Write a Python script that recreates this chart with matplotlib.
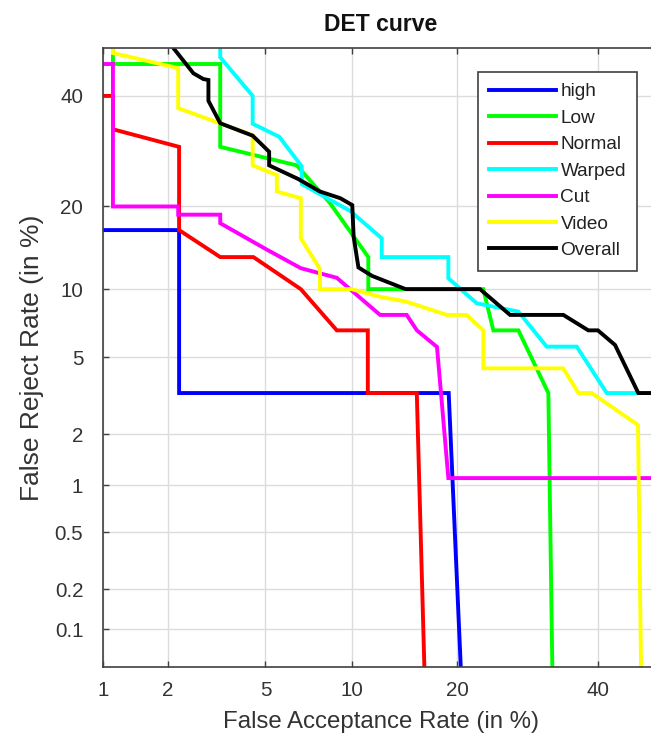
import math
import numpy as np
import matplotlib
matplotlib.use("Agg")
import matplotlib.pyplot as plt
from matplotlib.ticker import FixedLocator, FixedFormatter, NullLocator

plt.rcParams['font.family'] = ['Liberation Sans', 'DejaVu Sans']

# ---- DET curves (false acceptance rate / false reject rate, in %) ----
labels = ["high", "Low", "Normal", "Warped", "Cut", "Video", "Overall"]
colors = ["#0000ff", "#00ff00", "#ff0000", "#00ffff", "#ff00ff", "#ffff00", "#000000"]

far_high = [0.5, 2.24, 2.24, 19.0, 20.4]
frr_high = [16.67, 16.67, 3.33, 3.33, 0.05]

far_low = [1.12, 1.12, 3.33, 3.33, 6.5, 8.46, 11.23, 11.23, 23.18, 24.48, 27.89, 32.25, 32.85]
frr_low = [55, 46.67, 46.67, 30.0, 26.67, 20.5, 13.33, 10.0, 10.0, 6.67, 6.67, 3.33, 0.05]

far_normal = [0.5, 1.12, 1.12, 2.24, 2.24, 3.33, 4.5, 6.72, 8.91, 11.19, 11.19, 15.59, 16.36]
frr_normal = [40, 40, 33.33, 30, 16.67, 13.33, 13.33, 10, 6.67, 6.67, 3.33, 3.33, 0.05]

far_warped = [3.33, 3.33, 4.47, 4.47, 5.62, 6.77, 6.77, 9.84, 12.34, 12.34, 18.96, 18.96,
              22.35, 27.89, 32.0, 36.62, 41.44, 60]
frr_warped = [55, 48.1, 40, 34.4, 31.9, 26.5, 23.5, 19.35, 15.6, 13.33, 13.33, 11.06,
              8.74, 8.06, 5.62, 5.62, 3.33, 3.33]

far_cut = [0.5, 1.12, 1.12, 2.22, 2.22, 3.33, 3.33, 5.06, 6.72, 8.91, 12.2, 14.6, 15.6,
           17.7, 18.96, 60]
frr_cut = [46.67, 46.67, 20, 20, 18.8, 18.8, 17.6, 14.2, 12.1, 11.1, 7.8, 7.8, 6.67,
           5.6, 1.11, 1.11]

far_video = [1.12, 1.12, 2.22, 2.22, 4.47, 4.47, 5.51, 5.51, 6.72, 6.72, 7.83, 7.83, 9.96,
             12.2, 14.5, 18.8, 21.1, 23.18, 23.18, 34.5, 36.9, 39.0, 46.6, 47.1]
frr_video = [55, 49.0, 45.8, 37.5, 32.2, 26.67, 25.0, 22.3, 21.25, 15.6, 12.0, 10.0, 10.0,
             9.3, 8.9, 7.8, 7.8, 6.67, 4.43, 4.43, 3.33, 3.33, 2.25, 0.05]

far_overall = [2.12, 2.58, 2.84, 2.98, 2.98, 3.33, 4.47, 5.16, 5.16, 6.57, 7.83, 9.15, 10.0,
               10.1, 10.46, 11.52, 14.5, 22.76, 26.73, 34.53, 38.46, 40.0, 42.8, 46.65, 60]
frr_overall = [50, 44.7, 43.5, 43.3, 39.0, 34.5, 32.1, 29.1, 26.67, 24.35, 22.3, 21.25, 20.2,
               15.8, 12.18, 11.3, 10.0, 10.0, 7.8, 7.8, 6.67, 6.67, 5.72, 3.33, 3.33]

far_series = [far_high, far_low, far_normal, far_warped, far_cut, far_video, far_overall]
frr_series = [frr_high, frr_low, frr_normal, frr_warped, frr_cut, frr_video, frr_overall]

x_ticks = [1, 2, 5, 10, 20, 40]
x_ticklabels = ["1", "2", "5", "10", "20", "40"]
y_ticks = [0.1, 0.2, 0.5, 1, 2, 5, 10, 20, 40]
y_ticklabels = ["0.1", "0.2", "0.5", "1", "2", "5", "10", "20", "40"]


# ---- normal-deviate (probit) scale ----
_A = [-3.969683028665376e+01, 2.209460984245205e+02, -2.759285104469687e+02,
      1.383577518672690e+02, -3.066479806614716e+01, 2.506628277459239e+00]
_B = [-5.447609879822406e+01, 1.615858368580409e+02, -1.556989798598866e+02,
      6.680131188771972e+01, -1.328068155288572e+01]
_C = [-7.784894002430293e-03, -3.223964580411365e-01, -2.400758277161838e+00,
      -2.549671084986743e+00, 4.374664141464968e+00, 2.938163982698783e+00]
_D = [7.784695709041462e-03, 3.224671290700398e-01, 2.445134137142996e+00,
      3.754408161383342e+00]


def _ppf(p):
    p = np.clip(np.asarray(p, dtype=float), 1e-12, 1 - 1e-12)
    out = np.empty_like(p)
    plow = 0.02425
    lo = p < plow
    hi = p > 1 - plow
    mid = ~(lo | hi)
    q = np.sqrt(-2 * np.log(p[lo]))
    out[lo] = ((((((_C[0] * q + _C[1]) * q + _C[2]) * q + _C[3]) * q + _C[4]) * q + _C[5]) /
               ((((_D[0] * q + _D[1]) * q + _D[2]) * q + _D[3]) * q + 1))
    q = np.sqrt(-2 * np.log(1 - p[hi]))
    out[hi] = -((((((_C[0] * q + _C[1]) * q + _C[2]) * q + _C[3]) * q + _C[4]) * q + _C[5]) /
                ((((_D[0] * q + _D[1]) * q + _D[2]) * q + _D[3]) * q + 1))
    q = p[mid] - 0.5
    r = q * q
    out[mid] = ((((((_A[0] * r + _A[1]) * r + _A[2]) * r + _A[3]) * r + _A[4]) * r + _A[5]) * q /
                (((((_B[0] * r + _B[1]) * r + _B[2]) * r + _B[3]) * r + _B[4]) * r + 1))
    return out


_erf = np.vectorize(math.erf, otypes=[float])


def pct_to_dev(v):
    v = np.asarray(v, dtype=float)
    return _ppf(v / 100.0)


def dev_to_pct(z):
    z = np.asarray(z, dtype=float)
    return 100.0 * 0.5 * (1.0 + _erf(z / math.sqrt(2.0)))


# ---- figure ----
W, H = 651, 740
fig = plt.figure(figsize=(W / 100, H / 100), dpi=100)
ax_left, ax_right, ax_top, ax_bottom = 102.7, 658.4, 48.3, 666.7
ax = fig.add_axes([ax_left / W, 1 - ax_bottom / H,
                   (ax_right - ax_left) / W, (ax_bottom - ax_top) / H])

ax.set_xscale('function', functions=(pct_to_dev, dev_to_pct))
ax.set_yscale('function', functions=(pct_to_dev, dev_to_pct))

for far, frr, lab, col in zip(far_series, frr_series, labels, colors):
    ax.plot(far, frr, color=col, lw=2.8, label=lab, solid_joinstyle='miter')

ax.set_xlim(1, 50)
ax.set_ylim(0.05, 50)

axis_col = '#404040'
text_col = '#333333'
ax.xaxis.set_major_locator(FixedLocator(x_ticks))
ax.xaxis.set_major_formatter(FixedFormatter(x_ticklabels))
ax.xaxis.set_minor_locator(NullLocator())
ax.yaxis.set_major_locator(FixedLocator(y_ticks))
ax.yaxis.set_major_formatter(FixedFormatter(y_ticklabels))
ax.yaxis.set_minor_locator(NullLocator())

ax.tick_params(direction='in', length=4, width=1, colors=axis_col, labelsize=14.8,
               labelcolor=text_col, top=True, right=True)
ax.tick_params(axis='x', pad=10)
ax.tick_params(axis='y', pad=14)
for s in ax.spines.values():
    s.set_color(axis_col)
    s.set_linewidth(1.2)

ax.grid(True, color='#dcdcdc', lw=1.0)
ax.set_axisbelow(True)

ax.set_xlabel("False Acceptance Rate (in %)", fontsize=17.3, color=text_col, labelpad=8)
ax.set_ylabel("False Reject Rate (in %)", fontsize=19, color=text_col, labelpad=8)
ax.set_title("DET curve", fontsize=16.5, fontweight='bold', color='#111111', pad=12.5)

leg = ax.legend(loc='upper left', bbox_to_anchor=(0.6745, 0.9622), borderaxespad=0,
                fontsize=13.7, handlelength=3.5, handletextpad=0.26, labelspacing=0.48,
                borderpad=0.6, fancybox=False, framealpha=1, edgecolor=axis_col)
leg.get_frame().set_linewidth(1.2)
for t in leg.get_texts():
    t.set_color('#222222')

fig.savefig("out.png", dpi=100)
